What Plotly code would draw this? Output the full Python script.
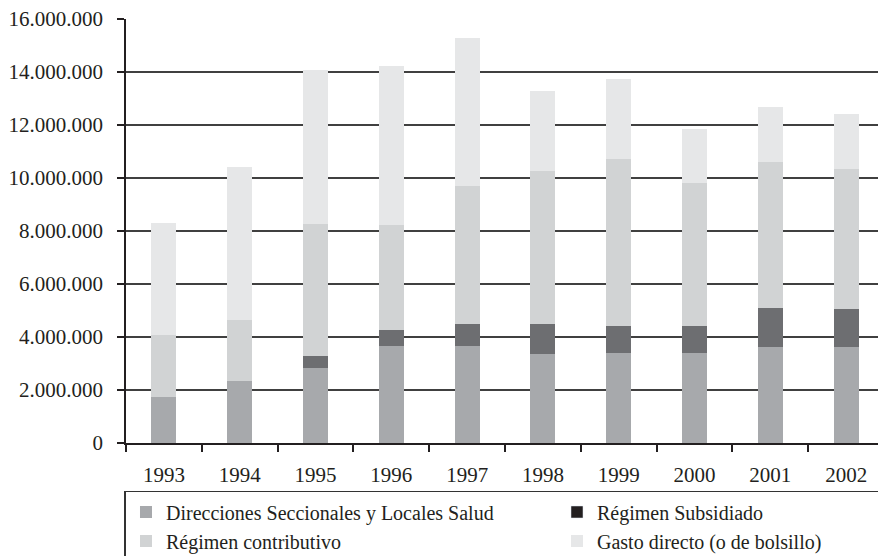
import plotly.graph_objects as go

years = ["1993", "1994", "1995", "1996", "1997", "1998", "1999", "2000", "2001", "2002"]
direcciones = [1750000, 2350000, 2840000, 3660000, 3660000, 3360000, 3410000, 3410000, 3630000, 3630000]
subsidiado = [0, 0, 440000, 600000, 830000, 1130000, 1020000, 1020000, 1480000, 1430000]
contributivo = [2320000, 2290000, 4980000, 3970000, 5220000, 5770000, 6300000, 5380000, 5490000, 5280000]
gasto_directo = [4230000, 5780000, 5810000, 6000000, 5570000, 3020000, 3010000, 2040000, 2070000, 2080000]
y_ticks = [0, 2000000, 4000000, 6000000, 8000000, 10000000, 12000000, 14000000, 16000000]

FONT = "Liberation Serif"
INK = "#231f20"

fig = go.Figure()
fig.add_trace(go.Bar(x=years, y=direcciones, name="Direcciones Seccionales y Locales Salud",
                     marker=dict(color="#a7a9ac", line=dict(width=0)), legendrank=1))
fig.add_trace(go.Bar(x=years, y=subsidiado, name="Régimen Subsidiado",
                     marker=dict(color="#6d6e71", line=dict(width=0)), showlegend=False))
fig.add_trace(go.Bar(x=years, y=contributivo, name="Régimen contributivo",
                     marker=dict(color="#d1d3d4", line=dict(width=0)), legendrank=3))
fig.add_trace(go.Bar(x=years, y=gasto_directo, name="Gasto directo (o de bolsillo)",
                     marker=dict(color="#e6e7e8", line=dict(width=0)), legendrank=4))
# legend swatch for Régimen Subsidiado (drawn black in the original legend)
fig.add_trace(go.Bar(x=[None], y=[None], name="Régimen Subsidiado",
                     marker=dict(color=INK), legendrank=2))

fig.update_layout(
    width=878, height=556,
    barmode="stack", bargap=0.67,
    plot_bgcolor="white", paper_bgcolor="white",
    separators=",.",
    font=dict(family=FONT, size=20, color=INK),
    margin=dict(l=126, r=0, t=19, b=113, autoexpand=False),
    showlegend=True,
    legend=dict(orientation="h", x=-0.002, xanchor="left", y=-0.1132, yanchor="top",
                traceorder="normal",
                entrywidth=386, entrywidthmode="pixels",
                bordercolor="#333333", borderwidth=1.5, bgcolor="white",
                font=dict(family=FONT, size=20, color=INK), tracegroupgap=0),
    xaxis=dict(type="category", range=[-0.5, 9.42], showline=True, linecolor=INK, linewidth=1.5,
               ticks="outside", tickson="boundaries", ticklen=7, tickcolor=INK, tickwidth=1.5,
               ticklabelstandoff=12, showgrid=False, tickfont=dict(size=21)),
    yaxis=dict(range=[0, 16000000], tickvals=y_ticks, tickformat=",d",
               showline=True, linecolor=INK, linewidth=1.5,
               ticks="outside", ticklen=7, tickcolor=INK, tickwidth=1.5, ticklabelstandoff=10,
               showgrid=True, gridcolor="#404040", gridwidth=1.5, zeroline=False,
               tickfont=dict(size=21)),
)

fig.write_html("out.html", config={"displayModeBar": False},
               post_script="document.body.style.margin='0';")
